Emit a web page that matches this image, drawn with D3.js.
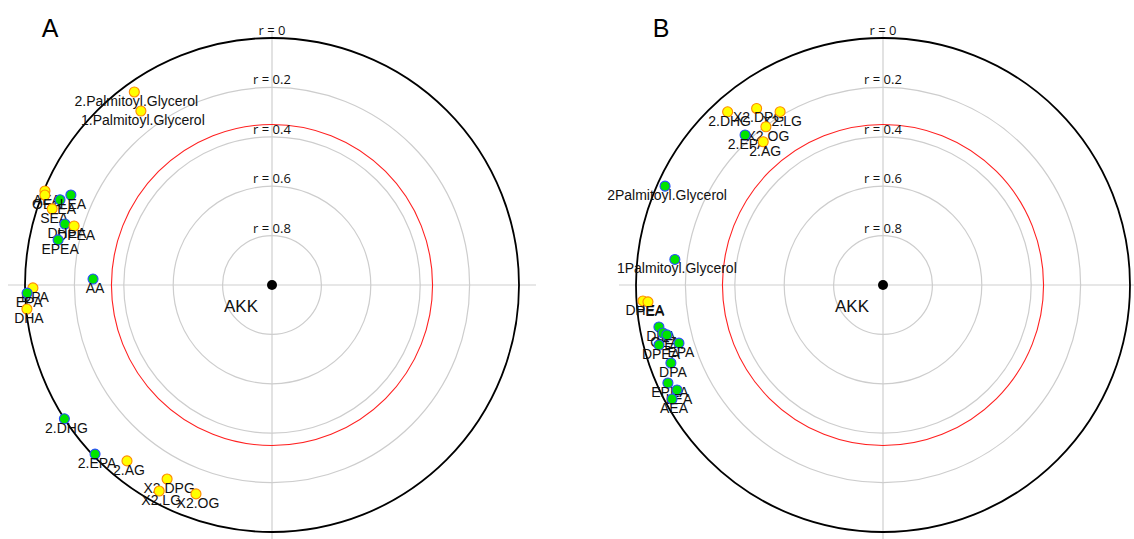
<!DOCTYPE html>
<html>
<head>
<meta charset="utf-8">
<script src="https://cdn.jsdelivr.net/npm/d3@7"></script>
<style>
  html, body { margin: 0; padding: 0; background: #fff; }
  svg { display: block; }
</style>
</head>
<body>
<div id="app"></div>
<script>
// ring levels (r = correlation with AKK), outer ring is r = 0
const ringValues = [0, 0.2, 0.4, 0.6, 0.8]
const thresholdR = 0.35
const centerLabel = 'AKK'

// angle: degrees clockwise from 12 o'clock, r: correlation, g: 'y' yellow / 'g' green
const panelA = [
  { name: '2.Palmitoyl.Glycerol', angle: -35.5, r: 0.04, g: 'y' },
  { name: '1.Palmitoyl.Glycerol', angle: -37.0, r: 0.118, g: 'y' },
  { name: 'AEA', angle: -67.5, r: 0.005, g: 'y' },
  { name: 'OEA', angle: -68.4, r: 0.011, g: 'y' },
  { name: 'PEA', angle: -68.1, r: 0.075, g: 'g' },
  { name: 'LEA', angle: -65.9, r: 0.108, g: 'g' },
  { name: 'SEA', angle: -70.9, r: 0.058, g: 'y' },
  { name: 'DHEA', angle: -73.6, r: 0.126, g: 'g' },
  { name: 'DPEA', angle: -73.4, r: 0.164, g: 'y' },
  { name: 'EPEA', angle: -78.1, r: 0.115, g: 'g' },
  { name: 'AA', angle: -88.1, r: 0.275, g: 'g' },
  { name: 'DPA', angle: -90.7, r: 0.032, g: 'y' },
  { name: 'EPA', angle: -91.9, r: 0.008, g: 'g' },
  { name: 'DHA', angle: -95.6, r: 0.003, g: 'y' },
  { name: '2.DHG', angle: -122.8, r: 0.0, g: 'g' },
  { name: '2.EPA', angle: -133.7, r: 0.009, g: 'g' },
  { name: '2.AG', angle: -140.5, r: 0.077, g: 'y' },
  { name: 'X2.DPG', angle: -151.6, r: 0.107, g: 'y' },
  { name: 'X2.LG', angle: -151.3, r: 0.049, g: 'y' },
  { name: 'X2.OG', angle: -160.0, r: 0.1, g: 'y' },
]

const panelB = [
  { name: '2.DHG', angle: -41.9, r: 0.058, g: 'y' },
  { name: 'X2.DPG', angle: -35.6, r: 0.121, g: 'y' },
  { name: 'X2.LG', angle: -30.7, r: 0.184, g: 'y' },
  { name: 'X2.OG', angle: -36.5, r: 0.203, g: 'y' },
  { name: '2.EPA', angle: -42.6, r: 0.175, g: 'g' },
  { name: '2.AG', angle: -39.9, r: 0.244, g: 'y' },
  { name: '2Palmitoyl.Glycerol', angle: -65.6, r: 0.031, g: 'g' },
  { name: '1Palmitoyl.Glycerol', angle: -83.0, r: 0.151, g: 'g' },
  { name: 'DHEA', angle: -93.8, r: 0.026, g: 'y' },
  { name: 'PEA', angle: -94.1, r: 0.046, g: 'y' },
  { name: 'DHA', angle: -100.6, r: 0.077, g: 'g' },
  { name: 'OEA', angle: -102.3, r: 0.088, g: 'g' },
  { name: 'SEA', angle: -103.0, r: 0.102, g: 'g' },
  { name: 'DPEA', angle: -105.0, r: 0.061, g: 'g' },
  { name: 'EPA', angle: -105.9, r: 0.141, g: 'g' },
  { name: 'DPA', angle: -110.2, r: 0.085, g: 'g' },
  { name: 'EPEA', angle: -114.5, r: 0.043, g: 'g' },
  { name: 'LEA', angle: -117.0, r: 0.064, g: 'g' },
  { name: 'AEA', angle: -118.4, r: 0.029, g: 'g' },
]

const W = 1134
const H = 539
const R = 247

const fills = { y: '#ffff00', g: '#00e400' }
const strokes = { y: '#ff8a00', g: '#2a4cff' }

const svg = d3.select('#app').append('svg').attr('width', W).attr('height', H)
svg.append('rect').attr('width', W).attr('height', H).attr('fill', '#fff')

// r = 0 on the outside, r = 1 in the middle
const rScale = d3.scaleLinear().domain([0, 1]).range([R, 0])

function drawPanel(letter, cx, cy, data) {
  const g = svg.append('g').attr('transform', `translate(${cx},${cy})`)

  // crosshair
  g.append('line').attr('x1', -R - 17).attr('x2', R + 17).attr('y1', 0).attr('y2', 0)
    .attr('stroke', '#cfcfcf').attr('stroke-width', 1.2)
  g.append('line').attr('x1', 0).attr('x2', 0).attr('y1', -R - 6).attr('y2', R + 20)
    .attr('stroke', '#cfcfcf').attr('stroke-width', 1.2)

  // grey rings
  g.append('g').selectAll('circle')
    .data(ringValues.filter((v) => v > 0))
    .join('circle')
    .attr('r', (d) => rScale(d))
    .attr('fill', 'none')
    .attr('stroke', '#cdcdcd')
    .attr('stroke-width', 1.2)

  // significance ring
  g.append('circle').attr('r', rScale(thresholdR))
    .attr('fill', 'none').attr('stroke', '#ff2020').attr('stroke-width', 1.1)

  // outer ring r = 0
  g.append('circle').attr('r', rScale(0))
    .attr('fill', 'none').attr('stroke', '#000').attr('stroke-width', 1.8)

  g.append('g').selectAll('text')
    .data(ringValues)
    .join('text')
    .attr('x', 0)
    .attr('y', (d) => -rScale(d) - 3)
    .attr('text-anchor', 'middle')
    .attr('font-family', '"Open Sans", sans-serif')
    .attr('font-size', 13)
    .attr('fill', '#111')
    .text((d) => `r = ${d}`)

  // centre variable
  g.append('circle').attr('r', 5).attr('fill', '#000')
  g.append('text').attr('x', -31).attr('y', 27)
    .attr('text-anchor', 'middle')
    .attr('font-family', '"Liberation Sans", Arial, sans-serif')
    .attr('font-size', 17)
    .attr('fill', '#111')
    .text(centerLabel)

  const items = g.append('g').selectAll('g')
    .data(data)
    .join('g')
    .attr('transform', (d) => {
      const [x, y] = d3.pointRadial(d.angle * Math.PI / 180, rScale(d.r))
      return `translate(${x},${y})`
    })

  items.append('circle')
    .attr('r', 5)
    .attr('fill', (d) => fills[d.g])
    .attr('stroke', (d) => strokes[d.g])
    .attr('stroke-width', 1.1)

  items.append('text')
    .attr('x', 2)
    .attr('y', 14)
    .attr('text-anchor', 'middle')
    .attr('font-family', '"Liberation Sans", Arial, sans-serif')
    .attr('font-size', 14)
    .attr('fill', '#111')
    .text((d) => d.name)

  svg.append('text').attr('x', cx - 222).attr('y', cy - 248)
    .attr('text-anchor', 'middle')
    .attr('font-family', '"Liberation Sans", Arial, sans-serif')
    .attr('font-size', 25)
    .attr('fill', '#000')
    .text(letter)
}

drawPanel('A', 272, 285, panelA)
drawPanel('B', 883, 285, panelB)
</script>
</body>
</html>
